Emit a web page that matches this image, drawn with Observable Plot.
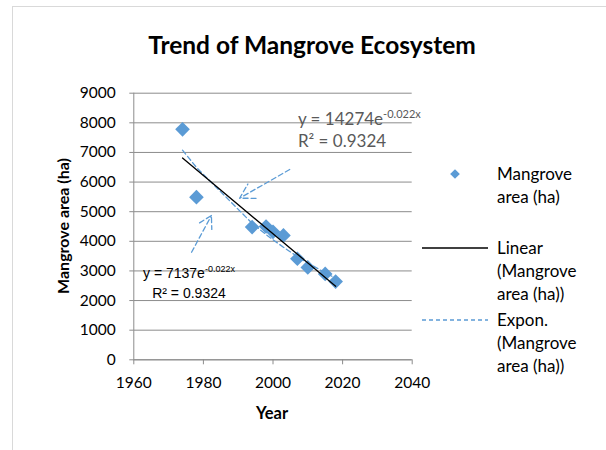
<!DOCTYPE html>
<html><head><meta charset="utf-8">
<script src="https://cdn.jsdelivr.net/npm/d3@7"></script>
<script src="https://cdn.jsdelivr.net/npm/@observablehq/plot@0.6"></script>
<style>body{margin:0;background:#fff}</style>
</head><body><div id="chart"></div>
<script>
// ---- data ----
const years = [1974, 1978, 1994, 1998, 2000, 2003, 2007, 2010, 2015, 2018];
const areas = [7780, 5490, 4480, 4500, 4320, 4200, 3410, 3120, 2900, 2640];
const xTicks = [1960, 1980, 2000, 2020, 2040];
const yTicks = [0, 1000, 2000, 3000, 4000, 5000, 6000, 7000, 8000, 9000];
const title = "Trend of Mangrove Ecosystem";
const xTitle = "Year";
const yTitle = "Mangrove area (ha)";
const legendLabels = [["Mangrove", "area (ha)"], ["Linear", "(Mangrove", "area (ha))"], ["Expon.", "(Mangrove", "area (ha))"]];
// hand-drawn annotation arrows (data units)
const arrowX1 = [2004.8, 1976.6];
const arrowY1 = [6423, 3631];
const arrowX2 = [1990.4, 1982.3];
const arrowY2 = [5454, 4870];
// trendline equation labels (data units)
const eqMain = ["y = 14274e", "y = 7137e"];
const eqSup = ["-0.022x", "-0.022x"];
const eqR2 = ["R² = 0.9324", "R² = 0.9324"];
const eqX = [2007.3, 1976.0];
const eqY1 = [7907, 2734];
const eqY2 = [7165, 2059];

const data = years.map((year, i) => ({year, area: areas[i]}));
const arrows = arrowX1.map((x1, i) => ({x1, y1: arrowY1[i], x2: arrowX2[i], y2: arrowY2[i]}));

// exponential fit (least squares on ln y)
const lnY = areas.map(Math.log);
const mx = d3.mean(years), my = d3.mean(lnY);
const b = d3.sum(years, (x, i) => (x - mx) * (lnY[i] - my)) / d3.sum(years, x => (x - mx) ** 2);
const a = my - b * mx;
const expLine = years.map(x => ({year: x, area: Math.exp(a + b * x)}));

const BLUE = "#5B9BD5";
const GRID = "#8c8c8c";
const FONT = "Lato, 'Open Sans', sans-serif";

const plot = Plot.plot({
  width: 606,
  height: 450,
  marginLeft: 133.3,
  marginRight: 194.3,
  marginTop: 92.7,
  marginBottom: 90.7,
  style: {background: "white", fontFamily: FONT, fontSize: "15.5px", color: "#000", overflow: "visible"},
  x: {domain: [1960, 2040], ticks: xTicks, tickFormat: d => String(d), label: null},
  y: {domain: [0, 9000], ticks: yTicks, tickFormat: d => String(d), label: null},
  marks: [
    Plot.gridY(yTicks, {stroke: GRID, strokeOpacity: 1, strokeWidth: 1}),
    Plot.ruleX([1960], {stroke: GRID, strokeWidth: 1}),
    Plot.ruleY([0], {stroke: GRID, strokeWidth: 1}),
    Plot.axisY(yTicks, {tickSize: 4, tickPadding: 14, stroke: GRID, fill: "#000", tickFormat: d => String(d), label: null}),
    Plot.axisX(xTicks, {tickSize: 5, tickPadding: 12, stroke: GRID, fill: "#000", tickFormat: d => String(d), label: null}),
    Plot.dot(data, {x: "year", y: "area", symbol: "diamond2", r: 6.6, fill: BLUE, stroke: "none"}),
    Plot.line(expLine, {x: "year", y: "area", stroke: BLUE, strokeWidth: 1.3, strokeDasharray: "5,3"}),
    Plot.linearRegressionY(data, {x: "year", y: "area", stroke: "#000", strokeWidth: 1.3, ci: 0}),
    Plot.arrow(arrows, {x1: "x1", y1: "y1", x2: "x2", y2: "y2", stroke: BLUE, strokeWidth: 1.3, strokeDasharray: "5,3", headLength: 19, headAngle: 60})
  ]
});

document.getElementById("chart").appendChild(plot);
const svg = d3.select(plot);
const sx = plot.scale("x"), sy = plot.scale("y");

// outer chart border
svg.insert("rect", ":first-child").attr("x", 12.5).attr("y", 6.5).attr("width", 600).attr("height", 450)
  .attr("fill", "none").attr("stroke", "#d9d9d9");

// title & axis titles
svg.append("text").attr("x", 312).attr("y", 54).attr("text-anchor", "middle")
  .attr("font-family", FONT).attr("font-weight", "bold").attr("font-size", 24.5).text(title);
svg.append("text").attr("transform", "translate(69,226) rotate(-90)").attr("text-anchor", "middle")
  .attr("font-family", FONT).attr("font-weight", "bold").attr("font-size", 16).text(yTitle);
svg.append("text").attr("x", 272).attr("y", 419).attr("text-anchor", "middle")
  .attr("font-family", FONT).attr("font-weight", "bold").attr("font-size", 16.5).text(xTitle);

// equation labels
const eqStyle = [
  {anchor: "start", family: FONT, size: 17, fill: "#595959", sup: 11, supDy: -7},
  {anchor: "middle", family: "'Liberation Sans Narrow', 'Liberation Sans', Arial, sans-serif", size: 14, fill: "#000", sup: 9, supDy: -6}
];
eqMain.forEach((t, i) => {
  const s = eqStyle[i];
  const t1 = svg.append("text").attr("x", sx.apply(eqX[i])).attr("y", sy.apply(eqY1[i]))
    .attr("text-anchor", s.anchor).attr("font-family", s.family).attr("font-size", s.size).attr("fill", s.fill);
  t1.append("tspan").text(t);
  t1.append("tspan").attr("font-size", s.sup).attr("dy", s.supDy).text(eqSup[i]);
  svg.append("text").attr("x", sx.apply(eqX[i])).attr("y", sy.apply(eqY2[i]))
    .attr("text-anchor", s.anchor).attr("font-family", s.family).attr("font-size", s.size).attr("fill", s.fill)
    .text(eqR2[i]);
});

// legend
const lg = svg.append("g").attr("font-family", FONT).attr("font-size", 17).attr("fill", "#000").attr("text-anchor", "start");
const rowStarts = [174, 248, 320];
const lineH = 23;
lg.append("path").attr("d", d3.symbol(d3.symbolDiamond2, 60)()).attr("transform", `translate(455,${rowStarts[0]})`).attr("fill", BLUE);
lg.append("line").attr("x1", 422).attr("x2", 488).attr("y1", rowStarts[1]).attr("y2", rowStarts[1]).attr("stroke", "#000").attr("stroke-width", 1.3);
lg.append("line").attr("x1", 422).attr("x2", 488).attr("y1", rowStarts[2]).attr("y2", rowStarts[2]).attr("stroke", BLUE).attr("stroke-width", 1.3).attr("stroke-dasharray", "4,3");
legendLabels.forEach((lines, i) => {
  lines.forEach((l, j) => {
    lg.append("text").attr("x", 497).attr("y", rowStarts[i] + j * lineH + 6).attr("text-anchor", "start").text(l);
  });
});
</script>
</body></html>
